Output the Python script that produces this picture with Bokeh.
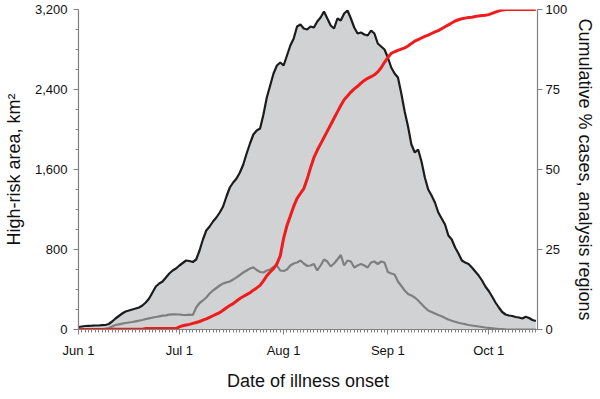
import numpy as np
from bokeh.plotting import figure
from bokeh.models import Range1d, LinearAxis, FixedTicker, NumeralTickFormatter, ColumnDataSource
from bokeh.embed import file_html
from bokeh.resources import INLINE

# x positions are days since Jun 1
month_ticks = [0, 30, 61, 92, 122]
month_labels = ["Jun 1", "Jul 1", "Aug 1", "Sep 1", "Oct 1"]
left_ticks = [0, 800, 1600, 2400, 3200]
right_ticks = [0, 25, 50, 75, 100]

# High-risk area, km2 (all regions) - black line with grey fill
area_total = [
    25, 30, 35, 37, 38, 40, 40, 43, 45, 55,
    80, 110, 135, 160, 180, 190, 200, 210, 220, 240,
    270, 310, 370, 430, 460, 480, 520, 560, 590, 610,
    640, 665, 690, 685, 675, 700, 790, 900, 990, 1030,
    1080, 1120, 1170, 1230, 1330, 1420, 1470, 1510, 1570, 1650,
    1760, 1860, 1950, 1990, 2010, 2150, 2320, 2440, 2560, 2640,
    2670, 2640, 2740, 2840, 2910, 3030, 3050, 3010, 3000, 3030,
    3020, 3080, 3120, 3180, 3110, 3040, 3010, 3110, 3090, 3160,
    3190, 3110, 3020, 2960, 2970, 2950, 2940, 2990, 2960, 2860,
    2830, 2800, 2720, 2620, 2560, 2520, 2360, 2180, 2030, 1850,
    1770, 1800, 1680, 1520, 1400, 1340, 1270, 1170, 1110, 1050,
    940, 900, 820, 760, 690, 670, 655, 620, 580, 540,
    490, 430, 385, 330, 270, 220, 175, 150, 140, 135,
    125, 120, 110, 128, 115, 95, 85,
]

# High-risk area, km2 (analysis regions) - grey line
area_analysis = [
    0, 0, 0, 0, 0, 0, 0, 2, 8, 15,
    30, 45, 52, 58, 65, 70, 75, 82, 88, 95,
    105, 112, 118, 125, 132, 138, 142, 148, 151, 152,
    150, 147, 145, 148, 145, 220, 265, 290, 320, 360,
    390, 415, 440, 460, 471, 480, 500, 521, 545, 570,
    590, 610, 621, 595, 575, 570, 590, 600, 625, 640,
    590, 585, 600, 640, 660, 670, 690, 660, 635, 640,
    655, 590, 640, 700, 680, 630, 660, 700, 745, 640,
    690, 680, 620, 640, 655, 640, 620, 670, 680, 655,
    680, 670, 575, 560, 550, 480, 435, 390, 355, 340,
    320, 290, 255, 220, 190, 175, 160, 145, 132, 115,
    100, 88, 78, 68, 60, 53, 45, 40, 35, 30,
    25, 20, 16, 12, 8, 5, 3, 1, 0, 0,
    0, 0, 0, 0, 0, 0, 0,
]

# Cumulative % cases, analysis regions - red line (right axis)
cum_pct = [
    0, 0, 0, 0, 0, 0, 0, 0, 0, 0,
    0.1, 0.1, 0.1, 0.1, 0.1, 0.1, 0.1, 0.1, 0.1, 0.1,
    0.3, 0.3, 0.3, 0.3, 0.3, 0.3, 0.3, 0.3, 0.3, 0.3,
    0.8, 1.2, 1.4, 1.6, 1.9, 2.2, 2.5, 2.9, 3.3, 3.8,
    4.3, 4.8, 5.3, 6.0, 6.8, 7.5, 8.1, 8.9, 9.7, 10.3,
    10.9, 11.5, 12.3, 13.0, 13.8, 15.2, 16.8, 18.0, 19.0, 20.5,
    23.0, 28.5, 32.5, 35.5, 38.5, 41.0, 42.5, 44.0, 47.0, 50.5,
    53.7, 56.0, 58.0, 60.0, 62.0, 64.0, 66.0, 68.0, 70.0, 71.8,
    73.0, 74.2, 75.2, 76.0, 77.0, 77.8, 78.5, 79.0, 79.6, 80.5,
    81.8, 83.5, 85.0, 86.3, 86.8, 87.2, 87.6, 88.0, 88.6, 89.4,
    90.1, 90.6, 91.1, 91.6, 92.0, 92.5, 93.0, 93.4, 94.0, 94.6,
    95.2, 95.8, 96.4, 96.8, 97.1, 97.3, 97.5, 97.6, 97.8, 98.0,
    98.1, 98.2, 98.4, 98.8, 99.2, 99.6, 99.8, 100, 100, 100,
    100, 100, 100, 100, 100, 100, 100,
]

day = list(range(len(area_total)))

FONT = "Liberation Sans"
AXIS_GREY = "#808080"

p = figure(
    frame_width=459, frame_height=320,
    x_range=Range1d(0, 136.5), y_range=Range1d(0, 3200),
    output_backend="svg", toolbar_location=None,
    min_border_left=69, min_border_right=50, min_border_top=9, min_border_bottom=54,
    x_axis_label="Date of illness onset", y_axis_label="High-risk area, km²",
)
p.outline_line_color = None
p.grid.visible = False

src = ColumnDataSource(dict(day=day, total=area_total, analysis=area_analysis, pct=cum_pct))

p.varea(x="day", y1=0, y2="total", source=src, fill_color="#d1d2d4")
p.line("day", "analysis", source=src, line_color="#7f7f7f", line_width=2.2)
p.line("day", "total", source=src, line_color="#1c1c1c", line_width=2.2)

p.extra_y_ranges = {"pct": Range1d(0, 100)}
ax_r = LinearAxis(y_range_name="pct", axis_label="Cumulative % cases, analysis regions",
                  ticker=FixedTicker(ticks=right_ticks))
p.add_layout(ax_r, "right")
p.line("day", "pct", source=src, y_range_name="pct", line_color="#ee1c1c", line_width=3)

p.xaxis.ticker = FixedTicker(ticks=month_ticks, minor_ticks=day)
p.xaxis.major_label_overrides = {t: l for t, l in zip(month_ticks, month_labels)}
p.yaxis[0].ticker = FixedTicker(ticks=left_ticks, minor_ticks=list(range(0, 3201, 200)))
p.yaxis[0].formatter = NumeralTickFormatter(format="0,0")

for ax in [p.xaxis[0], p.yaxis[0], ax_r]:
    ax.axis_line_color = AXIS_GREY
    ax.axis_line_width = 1.2
    ax.major_tick_line_color = AXIS_GREY
    ax.minor_tick_line_color = AXIS_GREY
    ax.major_tick_in = 0
    ax.major_tick_out = 5
    ax.minor_tick_in = 0
    ax.minor_tick_out = 3
    ax.major_label_text_font = FONT
    ax.major_label_text_font_size = "13px"
    ax.major_label_text_color = "#111111"
    ax.axis_label_text_font = FONT
    ax.axis_label_text_font_size = "18px"
    ax.axis_label_text_font_style = "normal"
    ax.axis_label_text_color = "#111111"

p.xaxis.major_label_standoff = 8
p.xaxis.axis_label_standoff = 10
p.yaxis[0].major_label_standoff = 6
p.yaxis[0].axis_label_standoff = 8
ax_r.major_label_standoff = 3
ax_r.axis_label_standoff = 5
ax_r.minor_tick_line_color = None

open("out.html", "w").write(file_html(p, INLINE))
